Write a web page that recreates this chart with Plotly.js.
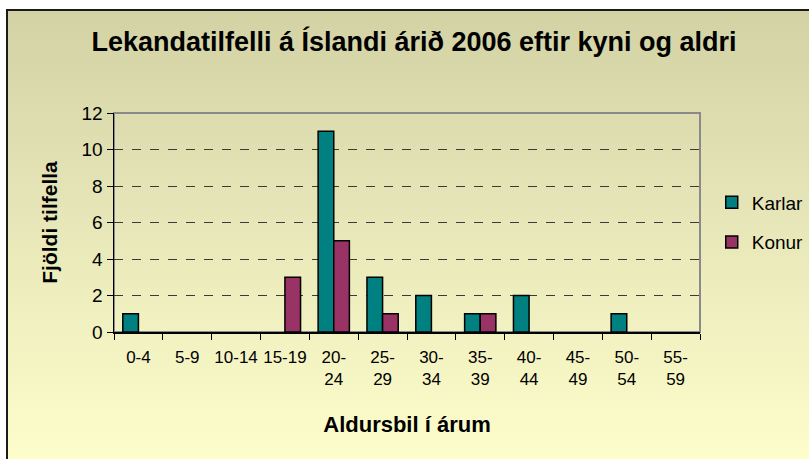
<!DOCTYPE html>
<html>
<head>
<meta charset="utf-8">
<script src="https://cdn.plot.ly/plotly-3.0.1.min.js"></script>
<style>
html,body{margin:0;padding:0;background:#ffffff;}
#frame{position:absolute;left:6px;top:9px;width:812px;height:460px;border-left:2px solid #1a1a1a;border-top:2px solid #1a1a1a;background:linear-gradient(to bottom,#d2d2a4 0%,#e6e6b8 45%,#ffffcc 100%);}
#chart{position:absolute;left:0;top:0;width:809px;height:459px;}
</style>
</head>
<body>
<div id="frame"></div>
<div id="chart"></div>
<script>
const categories = ["0-4","5-9","10-14","15-19","20-<br>24","25-<br>29","30-<br>34","35-<br>39","40-<br>44","45-<br>49","50-<br>54","55-<br>59"];
const karlar = [1,0,0,0,11,3,2,1,2,0,1,0];
const konur  = [0,0,0,3,5,1,0,1,0,0,0,0];
const seriesNames = ["Karlar","Konur"];
const yTicks = [0,2,4,6,8,10,12];

const FONT = "Liberation Sans, Arial, sans-serif";
const hideZero = arr => arr.map(v => v === 0 ? null : v);

const traces = [
  {type:"bar", name:seriesNames[0], x:categories, y:hideZero(karlar), legendgroup:"a",
   marker:{color:"#008080", line:{color:"#000000", width:1.5}}},
  {type:"bar", name:seriesNames[1], x:categories, y:hideZero(konur), legendgroup:"b",
   marker:{color:"#993366", line:{color:"#000000", width:1.5}}}
];

const layout = {
  width:809, height:459,
  paper_bgcolor:"rgba(0,0,0,0)", plot_bgcolor:"rgba(0,0,0,0)",
  margin:{l:114, r:109, t:113, b:127, autoexpand:false},
  barmode:"group", bargap:0.36, bargroupgap:0,
  font:{family:FONT, color:"#000000"},
  title:{text:"Lekandatilfelli á Íslandi árið 2006 eftir kyni og aldri",
         font:{family:FONT, size:27, weight:"bold", color:"#000000"},
         x:414/809, xref:"container", xanchor:"center",
         y:1-42/459, yref:"container", yanchor:"middle"},
  xaxis:{type:"category", tickson:"boundaries", ticks:"outside", ticklen:6, tickcolor:"#000",
         showline:true, linecolor:"#000", linewidth:1.5, showgrid:false,
         tickfont:{family:FONT, size:17}, tickangle:0, ticklabelstandoff:9,
         title:{text:"Aldursbil í árum", font:{family:FONT, size:22, weight:"bold"}, standoff:28},
         automargin:false},
  yaxis:{range:[0,12], tickvals:yTicks, ticks:"outside", ticklen:6, tickcolor:"#000",
         showline:true, linecolor:"#000", linewidth:1.5,
         showgrid:true, gridcolor:"#3a3a3a", gridwidth:1, griddash:"dash",
         zeroline:false, tickfont:{family:FONT, size:19},
         title:{text:"Fjöldi tilfella", font:{family:FONT, size:21, weight:"bold"}, standoff:18},
         automargin:false},
  legend:{x:1.02, xanchor:"left", y:0.5, yanchor:"middle", bgcolor:"rgba(0,0,0,0)",
          font:{family:FONT, size:19}, tracegroupgap:12, itemwidth:30},
  shapes:[{type:"rect", xref:"paper", yref:"paper", x0:0, x1:1, y0:0, y1:1,
           line:{color:"#8a8a8a", width:2}, layer:"below"}],
  showlegend:true
};

Plotly.newPlot("chart", traces, layout, {displayModeBar:false, staticPlot:true});
</script>
</body>
</html>
